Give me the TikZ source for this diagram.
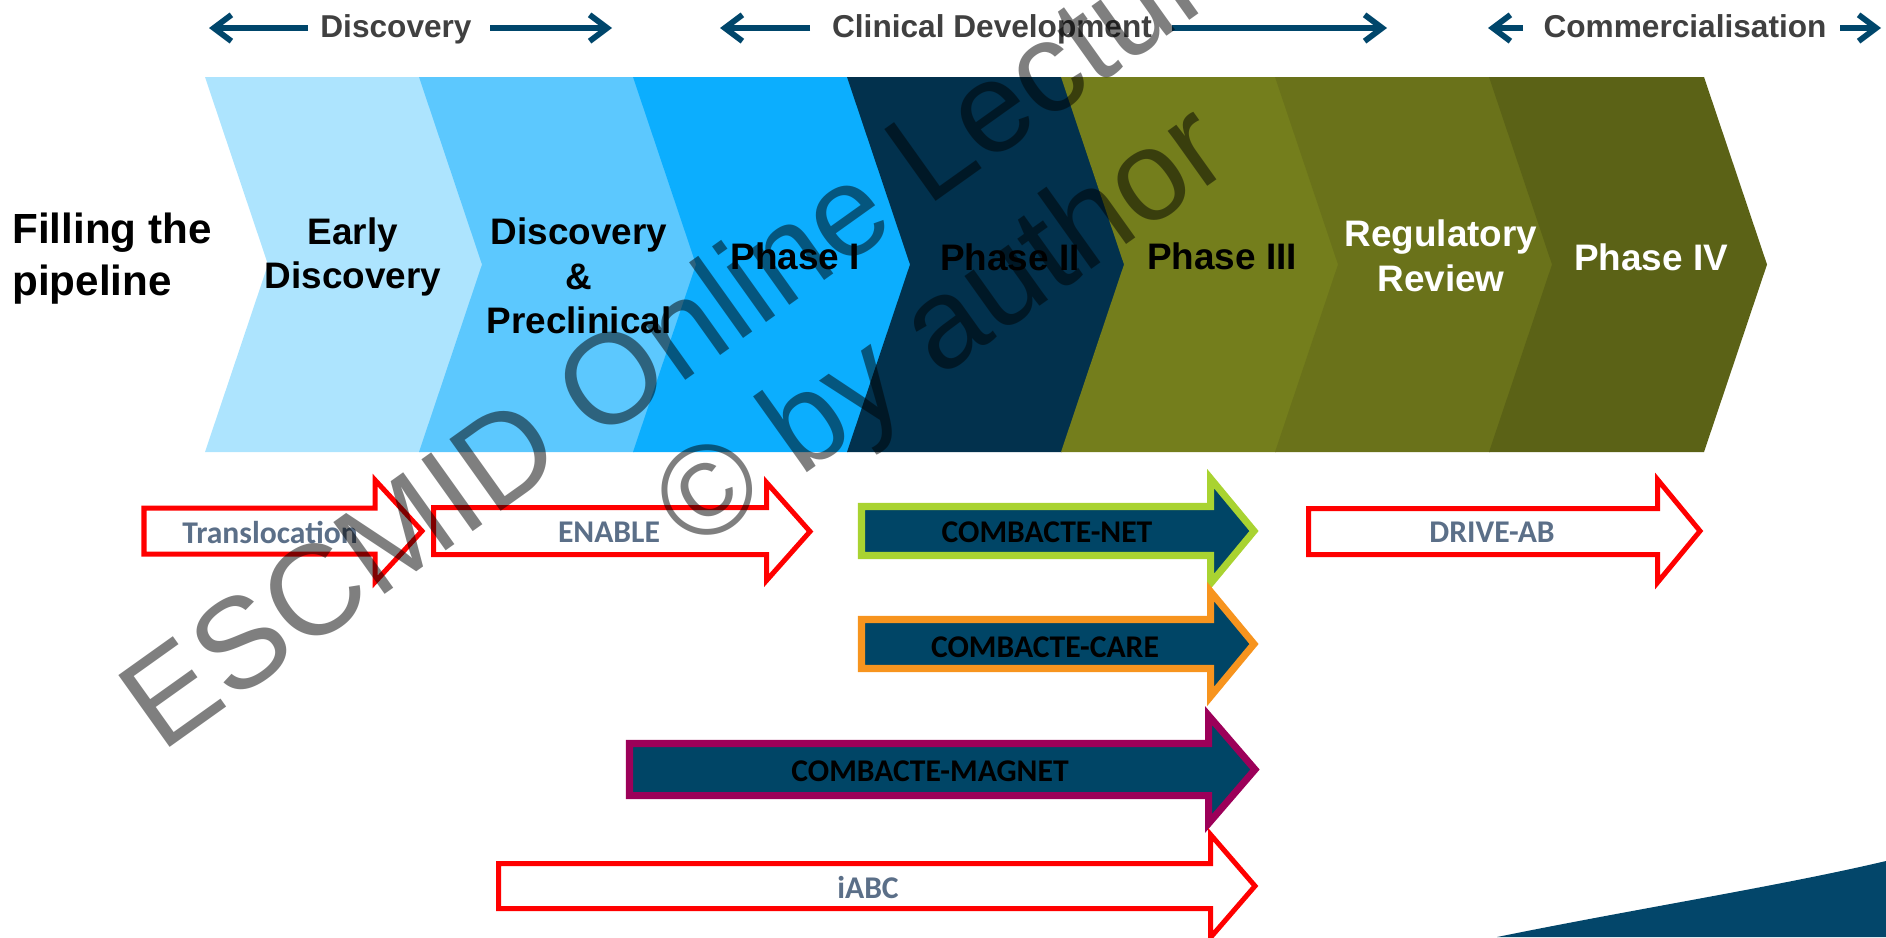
\documentclass[tikz,border=0pt]{standalone}
\usepackage{fontspec}
\setmainfont{Liberation Sans}
\newfontfamily\carlito{Carlito}
\usetikzlibrary{arrows.meta}

\definecolor{chevA}{RGB}{173,228,254}
\definecolor{chevB}{RGB}{92,200,254}
\definecolor{chevC}{RGB}{12,174,254}
\definecolor{chevD}{RGB}{2,49,77}
\definecolor{chevE}{RGB}{116,126,28}
\definecolor{chevF}{RGB}{106,114,26}
\definecolor{chevG}{RGB}{91,98,22}
\definecolor{navy}{RGB}{0,70,107}
\definecolor{hdrgray}{RGB}{64,64,64}
\definecolor{slate}{RGB}{91,111,136}
\definecolor{teal}{RGB}{0,69,102}
\definecolor{lime}{RGB}{169,211,49}
\definecolor{amber}{RGB}{247,148,30}
\definecolor{plum}{RGB}{156,0,89}
\definecolor{wave}{RGB}{3,70,106}

\begin{document}
\begin{tikzpicture}[x=0.02cm,y=-0.02cm,
  bandlabel/.style={font=\bfseries\fontsize{21pt}{25.5pt}\selectfont, align=center, inner sep=0pt},
  hdr/.style={font=\bfseries\fontsize{18pt}{21pt}\selectfont, text=hdrgray, inner sep=0pt, anchor=base},
  hdrarrow/.style={draw=navy, line width=3.3pt, -{Straight Barb[length=10pt,width=15pt]}},
  outlinearrow/.style={draw=red, line width=2.85pt, fill=white, line join=miter},
  projarrow/.style={line width=4pt, fill=teal, line join=miter},
  redlabel/.style={font=\carlito\bfseries\fontsize{18pt}{21pt}\selectfont, text=slate, inner sep=0pt},
  projlabel/.style={font=\carlito\bfseries\fontsize{18pt}{21pt}\selectfont, text=black, inner sep=0pt},
  wmark/.style={font=\fontsize{73pt}{84pt}\selectfont, text=black, text opacity=0.5, inner sep=0pt, anchor=base, rotate=35.5}
]
\useasboundingbox (0,0) rectangle (1886,937);
\clip (0,0) rectangle (1886,937);

% ---- stage headers with their span arrows ----
\node[hdr] (hdisc) at (396,37) {Discovery};
\node[hdr] (hclin) at (992,37) {Clinical Development};
\node[hdr] (hcomm) at (1685,37) {Commercialisation};
\coordinate (discLs) at (308,28);  \coordinate (discLe) at (209,28);
\coordinate (discRs) at (490,28);  \coordinate (discRe) at (612,28);
\coordinate (clinLs) at (810,28);  \coordinate (clinLe) at (720,28);
\coordinate (clinRs) at (1172,28); \coordinate (clinRe) at (1387,28);
\coordinate (commLs) at (1523,28); \coordinate (commLe) at (1488,28);
\coordinate (commRs) at (1840,28); \coordinate (commRe) at (1881,28);
\draw[hdrarrow] (discLs) -- (discLe);
\draw[hdrarrow] (discRs) -- (discRe);
\draw[hdrarrow] (clinLs) -- (clinLe);
\draw[hdrarrow] (clinRs) -- (clinRe);
\draw[hdrarrow] (commLs) -- (commLe);
\draw[hdrarrow] (commRs) -- (commRe);

% ---- pipeline chevron band ----
\foreach \c [count=\i from 0] in {chevA,chevB,chevC,chevD,chevE,chevF,chevG}{
  \fill[\c] ({206+214*\i-1},77) -- ({420+214*\i},77) -- ({483+214*\i},264.5)
    -- ({420+214*\i},452) -- ({206+214*\i-1},452) -- ({269+214*\i-1},264.5) -- cycle;
}

\node[font=\bfseries\fontsize{24pt}{29.5pt}\selectfont, align=left, inner sep=0pt, anchor=west]
  (fill) at (12,259) {Filling the\\pipeline};
\node[bandlabel] (early) at (353,257) {Early\\Discovery};
\node[bandlabel] (precl) at (579,276) {Discovery\\\&\\Preclinical};
\node[bandlabel] (ph1) at (795,256) {Phase I};
\node[bandlabel] (ph2) at (1010,257) {Phase II};
\node[bandlabel] (ph3) at (1222,256) {Phase III};
\node[bandlabel, text=white] (reg) at (1441,256) {Regulatory\\Review};
\node[bandlabel, text=white] (ph4) at (1651,257) {Phase IV};

% ---- project block arrows ----
\draw[outlinearrow] (144,508) -- (375,508) -- (375,480) -- (422,531) -- (375,582) -- (375,554) -- (144,554) -- cycle;
\node[redlabel] (transl) at (270,532) {Translocation};

\draw[outlinearrow] (433.5,507.5) -- (766.5,507.5) -- (766.5,482.5) -- (810,531.5) -- (766.5,580.5) -- (766.5,554.5) -- (433.5,554.5) -- cycle;
\node[redlabel] (enable) at (609,532) {ENABLE};

\draw[projarrow, draw=lime] (861.5,506.5) -- (1210.5,506.5) -- (1210.5,478.5) -- (1254,531) -- (1210.5,583.5) -- (1210.5,555.5) -- (861.5,555.5) -- cycle;
\node[projlabel] (cnet) at (1047,532) {COMBACTE-NET};

\draw[outlinearrow] (1308.5,508.5) -- (1657.5,508.5) -- (1657.5,479.5) -- (1700,531) -- (1657.5,582.5) -- (1657.5,554.5) -- (1308.5,554.5) -- cycle;
\node[redlabel] (drive) at (1492,532) {DRIVE-AB};

\draw[projarrow, draw=amber] (861.5,619.5) -- (1210.5,619.5) -- (1210.5,591.5) -- (1254,644) -- (1210.5,696.5) -- (1210.5,668.5) -- (861.5,668.5) -- cycle;
\node[projlabel] (ccare) at (1045,647) {COMBACTE-CARE};

\draw[projarrow, draw=plum] (629.5,743.5) -- (1208.5,743.5) -- (1208.5,715.5) -- (1255,769.5) -- (1208.5,823.5) -- (1208.5,795.5) -- (629.5,795.5) -- cycle;
\node[projlabel] (cmag) at (930,771) {COMBACTE-MAGNET};

\draw[outlinearrow] (498.5,863.5) -- (1210.5,863.5) -- (1210.5,834.5) -- (1255,886) -- (1210.5,937.5) -- (1210.5,908.5) -- (498.5,908.5) -- cycle;
\node[redlabel] (iabc) at (868,887) {iABC};

% ---- corner swoosh ----
\fill[wave] (1497,937) .. controls (1640,908) and (1780,886) .. (1886,861) -- (1886,937) -- cycle;

% ---- watermark ----
\node[wmark] (wmA) at (893,232) {ESCMID Online Lecture Library};
\node[wmark] (wmB) at (965,360) {\textcopyright{} by author};
\end{tikzpicture}
\end{document}
